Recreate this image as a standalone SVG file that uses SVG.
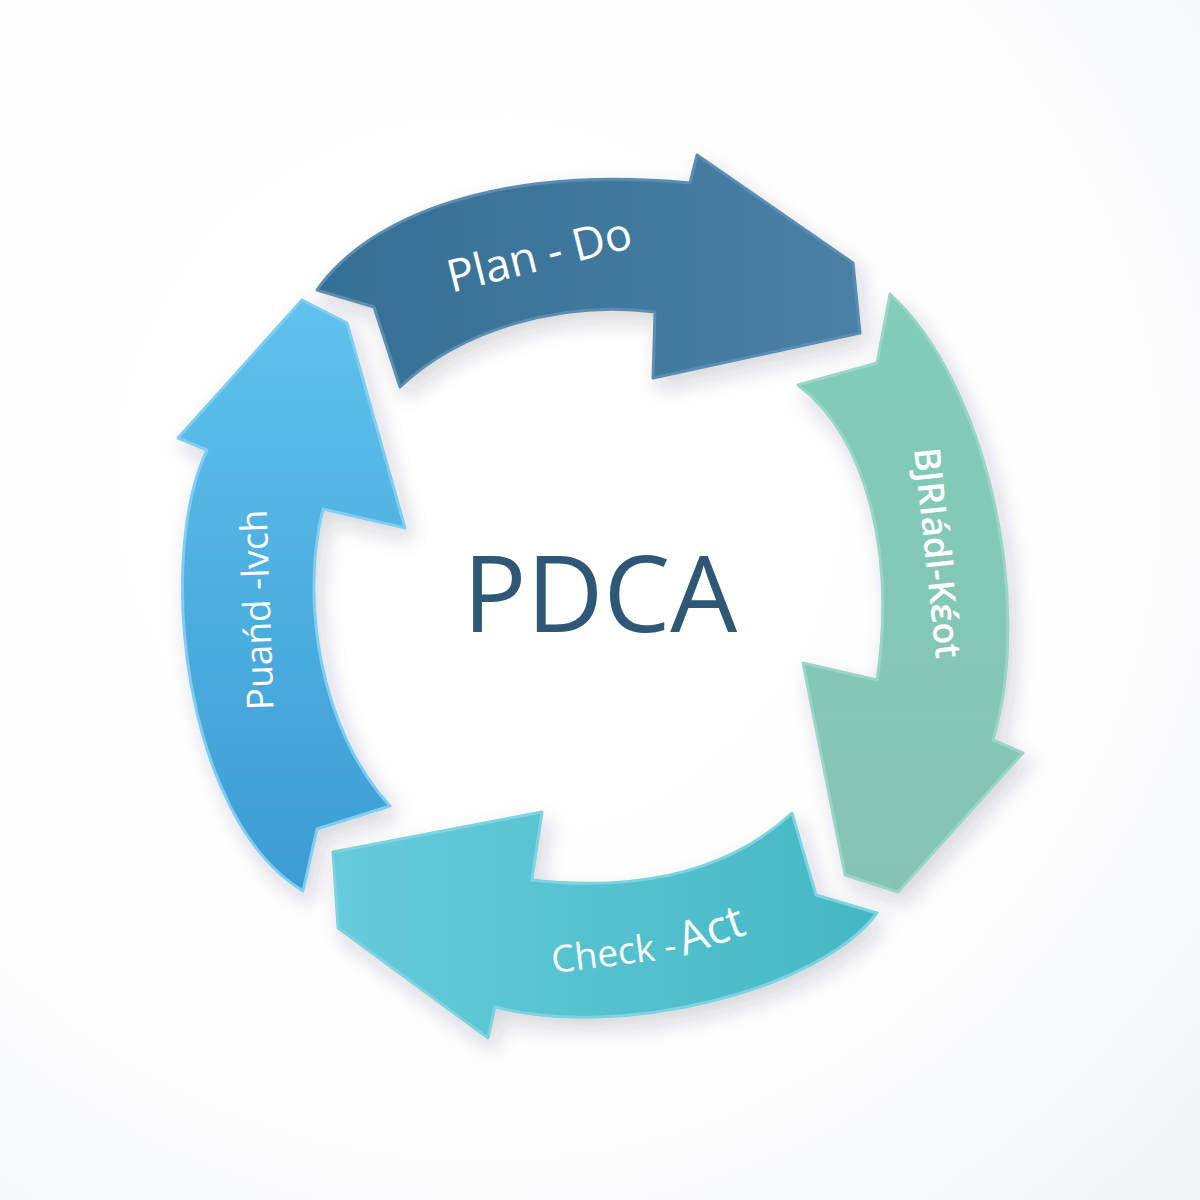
<svg xmlns="http://www.w3.org/2000/svg" width="1200" height="1200" viewBox="0 0 1200 1200">
  <style>
    .arrow { stroke-width: 3; stroke-linejoin: round; filter: url(#shadow); }
    .lbl { font-family: "Open Sans", "Noto Sans", "DejaVu Sans", sans-serif; fill: #ffffff; }
    .title { font-family: "Open Sans", "Noto Sans", "DejaVu Sans", sans-serif; fill: #2e5876; font-size: 106px; }
  </style>
  <defs>
    <radialGradient id="bg" cx="0.4" cy="0.4" r="0.85">
      <stop offset="0" stop-color="#ffffff"/>
      <stop offset="0.65" stop-color="#fdfdfe"/>
      <stop offset="1" stop-color="#f1f4f7"/>
    </radialGradient>
    <linearGradient id="gTop" x1="0" y1="0" x2="1" y2="0">
      <stop offset="0" stop-color="#356e94"/>
      <stop offset="1" stop-color="#4a80a5"/>
    </linearGradient>
    <linearGradient id="gRight" x1="0" y1="0" x2="0" y2="1">
      <stop offset="0" stop-color="#80cdb9"/>
      <stop offset="1" stop-color="#87c3b4"/>
    </linearGradient>
    <linearGradient id="gBottom" x1="0" y1="0" x2="1" y2="0">
      <stop offset="0" stop-color="#66cbdc"/>
      <stop offset="1" stop-color="#45b8c3"/>
    </linearGradient>
    <linearGradient id="gLeft" x1="0" y1="0" x2="0" y2="1">
      <stop offset="0" stop-color="#5fc2ec"/>
      <stop offset="1" stop-color="#3c9cd4"/>
    </linearGradient>
    <filter id="shadow" x="-20%" y="-20%" width="140%" height="140%">
      <feDropShadow dx="6" dy="10" stdDeviation="10" flood-color="#1c3346" flood-opacity="0.18"/>
    </filter>
  </defs>

  <rect x="0" y="0" width="1200" height="1200" fill="url(#bg)"/>

  <g id="connectors"/>

  <g id="node-plan-do">
    <path class="arrow" fill="url(#gTop)" stroke="#5a8db0" d="M317,290 C370,215 500,165 690,183 L697,155 L853,263 L860,333 L653,378 L655,312 C560,300 460,330 400,387 L374,307 Z"/>
    <text class="lbl" font-size="45" text-anchor="middle" transform="translate(543,270) rotate(-14)">Plan - Do</text>
  </g>

  <g id="node-right">
    <path class="arrow" fill="url(#gRight)" stroke="#9ad6c6" d="M890,294 C985,380 1035,600 993,740 L1023,753 L898,892 L845,875 L803,663 L877,680 C895,560 870,440 798,385 L877,363 Z"/>
    <text class="lbl" font-size="36" font-weight="600" text-anchor="middle" transform="translate(937,553) rotate(84)" y="12">BJRIádl-Kɛ́ot</text>
  </g>

  <g id="node-check-act">
    <path class="arrow" fill="url(#gBottom)" stroke="#7dd4e0" d="M877,913 C820,990 620,1040 495,1007 L488,1038 L338,928 L333,852 L542,812 L532,880 C620,890 720,880 792,813 L816,895 Z"/>
    <text class="lbl" font-size="37" transform="translate(553,973) rotate(-7)">Check -</text>
    <text class="lbl" font-size="46" transform="translate(684,956) rotate(-19)">Act</text>
  </g>

  <g id="node-left">
    <path class="arrow" fill="url(#gLeft)" stroke="#7fcdf0" d="M303,891 C185,820 155,560 207,450 L178,438 L302,300 L347,323 L405,528 L323,509 C300,600 320,730 390,806 L317,829 Z"/>
    <text class="lbl" font-size="37" text-anchor="middle" transform="translate(258,610) rotate(-92)" y="12">Puańd -lvch</text>
  </g>

  <g id="node-center">
    <text class="title" x="600" y="632" text-anchor="middle">PDCA</text>
  </g>
</svg>
